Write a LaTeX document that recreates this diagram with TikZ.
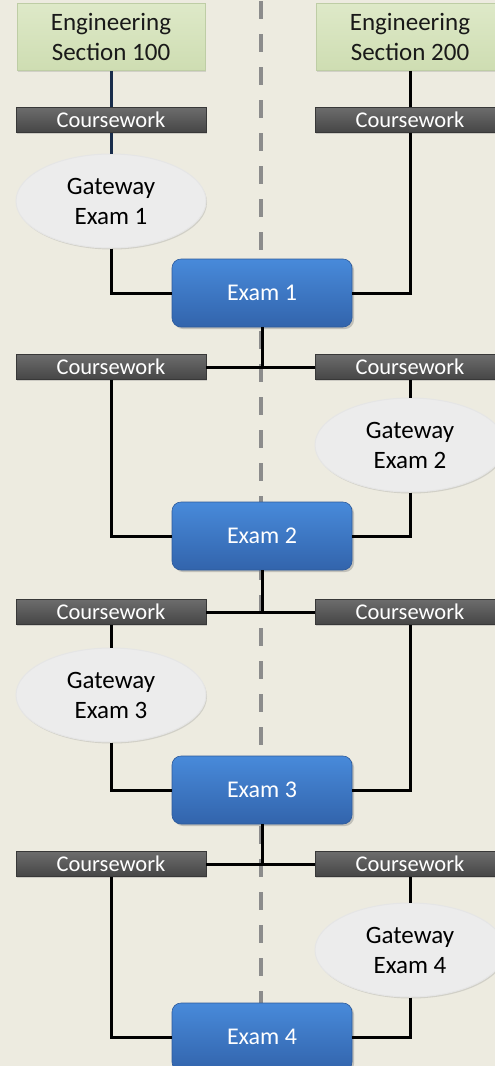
\documentclass[tikz,border=0pt]{standalone}
\usepackage{fontspec}
\setmainfont{Carlito}
\usetikzlibrary{shapes.geometric,shadows}
\definecolor{bgc}{RGB}{237,235,224}
\definecolor{secTop}{RGB}{222,233,200}
\definecolor{secBot}{RGB}{206,221,178}
\definecolor{secLine}{RGB}{190,205,165}
\definecolor{cwTop}{RGB}{108,108,108}
\definecolor{cwBot}{RGB}{70,70,70}
\definecolor{exTop}{RGB}{72,138,218}
\definecolor{exBot}{RGB}{50,100,172}
\definecolor{gwFill}{RGB}{236,236,236}
\definecolor{navy}{RGB}{25,45,75}
\definecolor{dashc}{RGB}{140,140,140}
\tikzset{
  secbox/.style={rectangle, minimum width=188pt, minimum height=67pt, inner sep=0pt,
    top color=secTop, bottom color=secBot, draw=secLine, line width=0.8pt, align=center,
    font=\fontsize{25}{30}\selectfont, text=black!90,
    drop shadow={shadow xshift=1pt, shadow yshift=-1pt, opacity=0.25}},
  cwbox/.style={rectangle, minimum width=190pt, minimum height=25pt, inner sep=0pt,
    top color=cwTop, bottom color=cwBot, draw=cwBot!80!black, line width=0.6pt,
    font=\fontsize{22.5}{25}\selectfont, text=white,
    drop shadow={shadow xshift=1pt, shadow yshift=-1pt, opacity=0.3}},
  gwbox/.style={ellipse, minimum width=190pt, minimum height=94pt, inner sep=0pt,
    fill=gwFill, draw=white!80!gray, line width=1pt, align=center,
    font=\fontsize{25}{30}\selectfont, text=black,
    drop shadow={shadow xshift=1pt, shadow yshift=-1.5pt, opacity=0.25}},
  exbox/.style={rectangle, rounded corners=9pt, minimum width=180pt, minimum height=68pt, inner sep=0pt,
    top color=exTop, bottom color=exBot, draw=exBot!90!black, line width=0.6pt,
    font=\fontsize{24}{28}\selectfont, text=white,
    drop shadow={shadow xshift=2pt, shadow yshift=-2pt, opacity=0.4}},
  link/.style={draw=black, line width=3pt},
  navylink/.style={draw=navy, line width=3pt},
  divider/.style={draw=dashc, line width=4.5pt, dash pattern=on 18pt off 15pt},
}
\begin{document}
\begin{tikzpicture}[x=1pt,y=-1pt]
\fill[bgc] (0,0) rectangle (495,1066);
\useasboundingbox (0,0) rectangle (495,1066);
\clip (0,0) rectangle (495,1066);

% divider
\coordinate (dtop) at (261,1);
\coordinate (dbot) at (261,1070);
\draw[divider] (dtop) -- (dbot);

% nodes
\node[secbox] (s100) at (111,37) {Engineering\\Section 100};
\node[secbox] (s200) at (410,37) {Engineering\\Section 200};

\node[cwbox] (cw1L) at (111,120) {Coursework};
\node[cwbox] (cw1R) at (410,120) {Coursework};
\node[gwbox] (g1) at (111,201) {Gateway\\Exam 1};
\node[exbox] (e1) at (262,293) {Exam 1};

\node[cwbox] (cw2L) at (111,367) {Coursework};
\node[cwbox] (cw2R) at (410,367) {Coursework};
\node[gwbox] (g2) at (410,445) {Gateway\\Exam 2};
\node[exbox] (e2) at (262,536) {Exam 2};

\node[cwbox] (cw3L) at (111,612) {Coursework};
\node[cwbox] (cw3R) at (410,612) {Coursework};
\node[gwbox] (g3) at (111,695) {Gateway\\Exam 3};
\node[exbox] (e3) at (262,790) {Exam 3};

\node[cwbox] (cw4L) at (111,864) {Coursework};
\node[cwbox] (cw4R) at (410,864) {Coursework};
\node[gwbox] (g4) at (410,950) {Gateway\\Exam 4};
\node[exbox] (e4) at (262,1037) {Exam 4};

% junctions
\coordinate (j1) at (e1.south |- cw2L.east);
\coordinate (j2) at (e2.south |- cw3L.east);
\coordinate (j3) at (e3.south |- cw4L.east);

% section 100 column
\draw[navylink] (s100.south) -- (cw1L.north);
\draw[navylink] (cw1L.south) -- (g1.north);
\draw[link] (g1.south) |- (e1.west);
\draw[link] (s200.south) -- (cw1R.north);
\draw[link] (cw1R.south) |- (e1.east);

\draw[link] (e1.south) -- (j1);
\draw[link] (cw2L.east) -- (cw2R.west);
\draw[link] (cw2L.south) |- (e2.west);
\draw[link] (cw2R.south) -- (g2.north);
\draw[link] (g2.south) |- (e2.east);

\draw[link] (e2.south) -- (j2);
\draw[link] (cw3L.east) -- (cw3R.west);
\draw[link] (cw3L.south) -- (g3.north);
\draw[link] (g3.south) |- (e3.west);
\draw[link] (cw3R.south) |- (e3.east);

\draw[link] (e3.south) -- (j3);
\draw[link] (cw4L.east) -- (cw4R.west);
\draw[link] (cw4L.south) |- (e4.west);
\draw[link] (cw4R.south) -- (g4.north);
\draw[link] (g4.south) |- (e4.east);
\end{tikzpicture}
\end{document}
